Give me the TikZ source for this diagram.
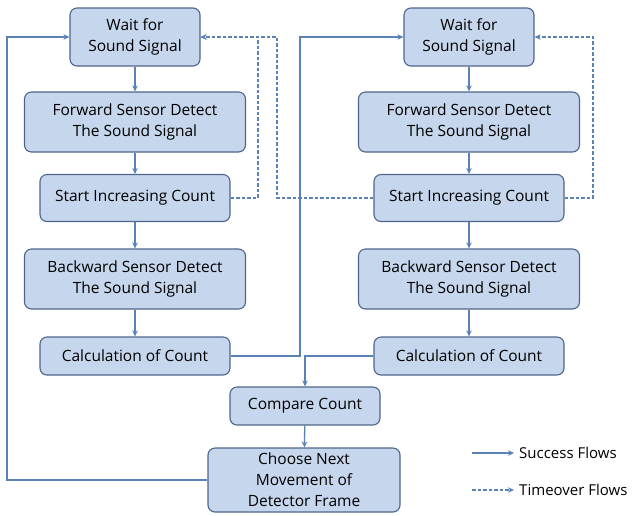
\documentclass[tikz,border=0pt]{standalone}
\usepackage{fontspec}
\setmainfont{Open Sans}
\usetikzlibrary{arrows.meta}
\definecolor{boxfill}{HTML}{C6D6EC}
\definecolor{boxline}{HTML}{4D6689}
\definecolor{flowblue}{HTML}{5B82B6}

\begin{document}
\begin{tikzpicture}[x=1pt, y=-1pt, >={Stealth[length=6pt,width=5.5pt]},
        main node/.style={rectangle, rounded corners=7pt, draw=boxline, fill=boxfill,
            line width=1.1pt, align=center, inner sep=2pt,
            font=\fontsize{15.5}{21}\selectfont},
        success/.style={->, draw=flowblue, line width=1.3pt},
        timeover/.style={->, draw=flowblue, line width=1.1pt, dash pattern=on 3.5pt off 2pt},
        legend/.style={anchor=west, inner sep=0pt, font=\fontsize{15}{18}\selectfont}]

    \useasboundingbox (0,0) rectangle (636,515);

    % Left column
    \node[main node, minimum width=130, minimum height=58] (wait1) at (135,37) {Wait for\\Sound Signal};
    \node[main node, minimum width=221, minimum height=60] (fwd1) at (135,122) {Forward Sensor Detect\\The Sound Signal};
    \node[main node, minimum width=190, minimum height=47] (start1) at (135,198) {Start Increasing Count};
    \node[main node, minimum width=221, minimum height=60] (bwd1) at (135,279) {Backward Sensor Detect\\The Sound Signal};
    \node[main node, minimum width=190, minimum height=38] (calc1) at (135,356) {Calculation of Count};

    % Right column
    \node[main node, minimum width=130, minimum height=58] (wait2) at (469,37) {Wait for\\Sound Signal};
    \node[main node, minimum width=221, minimum height=60] (fwd2) at (469,122) {Forward Sensor Detect\\The Sound Signal};
    \node[main node, minimum width=190, minimum height=47] (start2) at (469,198) {Start Increasing Count};
    \node[main node, minimum width=221, minimum height=60] (bwd2) at (469,279) {Backward Sensor Detect\\The Sound Signal};
    \node[main node, minimum width=190, minimum height=38] (calc2) at (469,356) {Calculation of Count};

    % Bottom
    \node[main node, minimum width=150, minimum height=38] (compare) at (305,406) {Compare Count};
    \node[main node, minimum width=192, minimum height=64] (choose) at (304,480) {Choose Next\\Movement of\\Detector Frame};

    % Turning points
    \coordinate (c1) at (300,356);
    \coordinate (c2) at (305,356);
    \coordinate (loopL) at (7,480);
    \coordinate (t1) at (258,198);
    \coordinate (t2) at (277,198);
    \coordinate (t3) at (593,198);

    % Success flows
    \draw[success] (wait1) -- (fwd1);
    \draw[success] (fwd1) -- (start1);
    \draw[success] (start1) -- (bwd1);
    \draw[success] (bwd1) -- (calc1);
    \draw[success] (wait2) -- (fwd2);
    \draw[success] (fwd2) -- (start2);
    \draw[success] (start2) -- (bwd2);
    \draw[success] (bwd2) -- (calc2);
    \draw[success] (calc1.east) -- (c1) |- (wait2.west);
    \draw[success] (calc2.west) -- (c2) -- (compare.north);
    \draw[success] (compare) -- (choose);
    \draw[success] (choose.west) -- (loopL) |- (wait1.west);

    % Timeover flows
    \draw[timeover] (start1.east) -- (t1) |- (wait1.east);
    \draw[timeover] (start2.west) -- (t2) |- (wait1.east);
    \draw[timeover] (start2.east) -- (t3) |- (wait2.east);

    % Legend
    \node[legend] (lsucc) at (519,453) {Success Flows};
    \node[legend] (ltime) at (519,490) {Timeover Flows};
    \coordinate (ls) at (472,453);
    \coordinate (lt) at (472,490);
    \draw[success] (ls) -- ([xshift=-5pt]lsucc.west);
    \draw[timeover] (lt) -- ([xshift=-5pt]ltime.west);
\end{tikzpicture}
\end{document}
